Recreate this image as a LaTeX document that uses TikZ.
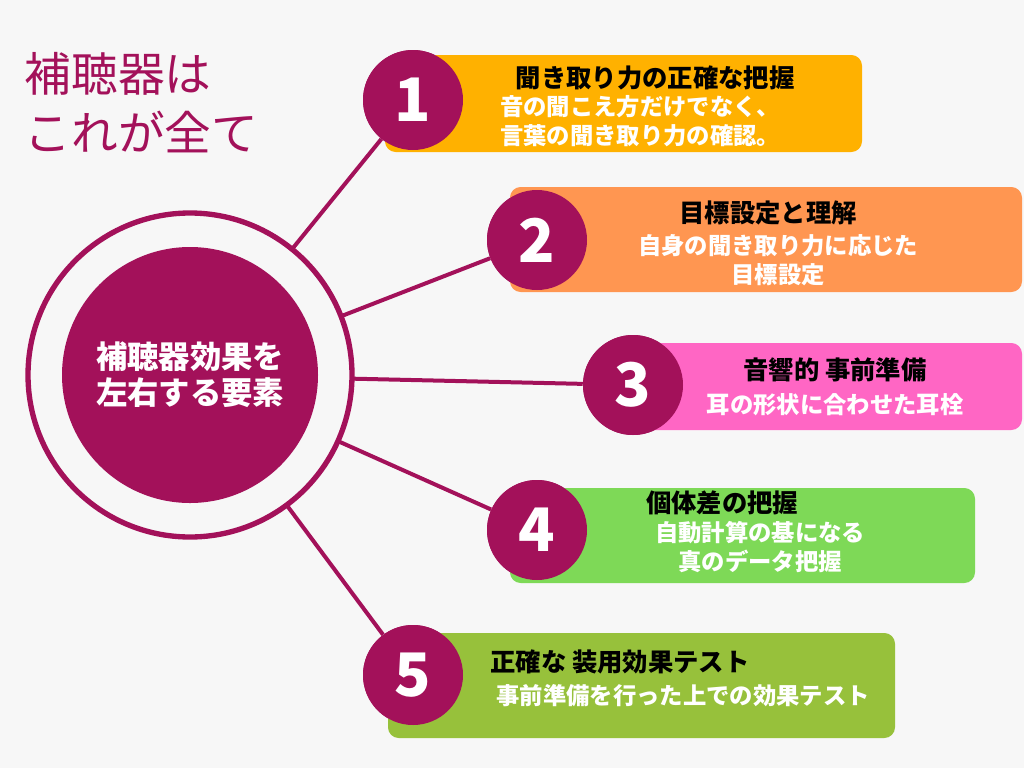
\documentclass[tikz,border=0pt]{standalone}
\usepackage{fontspec}
\setmainfont{Noto Sans CJK JP}
\usepackage{tikz}
\definecolor{plum}{HTML}{A3115A}
\definecolor{bgray}{HTML}{F7F7F7}
\definecolor{boxa}{HTML}{FFB100}
\definecolor{boxb}{HTML}{FF9651}
\definecolor{boxc}{HTML}{FF66C4}
\definecolor{boxd}{HTML}{7ED957}
\definecolor{boxe}{HTML}{97C13B}
\tikzset{
  numcirc/.style={circle,fill=plum,minimum size=75pt,inner sep=0pt,text=white,font=\fontsize{45}{45}\selectfont\bfseries},
  itembox/.style={rounded corners=8,draw=none},
  head/.style={font=\fontsize{19}{19}\selectfont\bfseries,text=black},
  sub/.style={font=\fontsize{17.5}{22}\selectfont\bfseries,text=white,align=center},
  spoke/.style={plum,line width=3}
}
\begin{document}
\begin{tikzpicture}[x=0.75pt,y=-0.75pt]
        \fill [bgray] (0,0) rectangle (1024,768);
        \useasboundingbox (0,0) rectangle (1024,768);
        % title
        \node (title) [anchor=north west,text=plum,align=left,font=\fontsize{35}{44}\selectfont] at (20,48) {補聴器は\\これが全て};
        % hub and number circles
        \coordinate (hub) at (190,375);
        \node (n1) [numcirc] at (413,100) {1};
        \node (n2) [numcirc] at (537,240) {2};
        \node (n3) [numcirc] at (633,385) {3};
        \node (n4) [numcirc] at (537,530) {4};
        \node (n5) [numcirc] at (413,675) {5};
        \draw [spoke] (hub) -- (n1);
        \draw [spoke] (hub) -- (n2);
        \draw [spoke] (hub) -- (n3);
        \draw [spoke] (hub) -- (n4);
        \draw [spoke] (hub) -- (n5);
        \draw [plum,line width=4,fill=bgray] (hub) circle (162);
        \node (core) [circle,fill=plum,minimum size=192pt,inner sep=0pt,text=white,align=center,font=\fontsize{23.5}{27}\selectfont\bfseries] at (hub) {補聴器効果を\\左右する要素};
        % boxes
        \fill [itembox,boxa] (385,55) rectangle (862,152);
        \fill [itembox,boxb] (510,187) rectangle (1022,292);
        \fill [itembox,boxc] (633,343) rectangle (1022,430);
        \fill [itembox,boxd] (510,488) rectangle (975,583);
        \fill [itembox,boxe] (388,633) rectangle (895,738);
        \foreach \n in {1,...,5}
          \node [numcirc] at (n\n) {\n};
        % texts
        \node (h1) [head] at (655,78) {聞き取り力の正確な把握};
        \node (s1) [sub] at (640,121) {音の聞こえ方だけでなく、\\言葉の聞き取り力の確認。};
        \node (h2) [head] at (768,213) {目標設定と理解};
        \node (s2) [sub] at (778,260) {自身の聞き取り力に応じた\\目標設定};
        \node (h3) [head] at (835,370) {音響的 事前準備};
        \node (s3) [sub] at (835,405) {耳の形状に合わせた耳栓};
        \node (h4) [head] at (722,503) {個体差の把握};
        \node (s4) [sub] at (760,547) {自動計算の基になる\\真のデータ把握};
        \node (h5) [head] at (620,662) {正確な 装用効果テスト};
        \node (s5) [sub] at (683,696) {事前準備を行った上での効果テスト};
\end{tikzpicture}
\end{document}
